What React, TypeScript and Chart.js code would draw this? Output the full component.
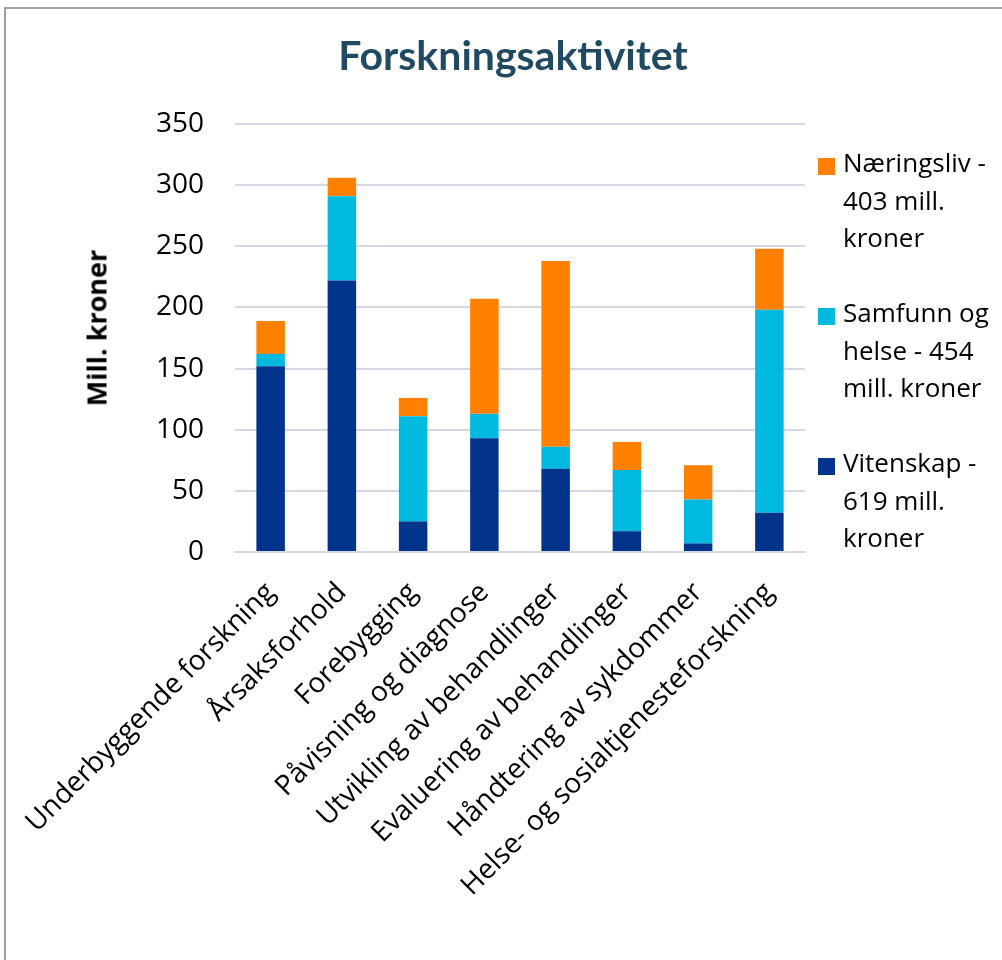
import React, { useEffect, useRef } from "react";
import { Chart, registerables } from "chart.js";

Chart.register(...registerables);

const categories = [
  "Underbyggende forskning",
  "Årsaksforhold",
  "Forebygging",
  "Påvisning og diagnose",
  "Utvikling av behandlinger",
  "Evaluering av behandlinger",
  "Håndtering av sykdommer",
  "Helse- og sosialtjenesteforskning",
];

const vitenskap = [152, 222, 25, 93, 68, 17, 7, 32];
const samfunn = [10, 69, 86, 20, 18, 50, 36, 166];
const naeringsliv = [27, 15, 15, 94, 152, 23, 28, 50];

const yTicks = [0, 50, 100, 150, 200, 250, 300, 350];

const legendItems = [
  { lines: ["Næringsliv -", "403 mill.", "kroner"], color: "#FF7F00" },
  { lines: ["Samfunn og", "helse - 454", "mill. kroner"], color: "#00B9DF" },
  { lines: ["Vitenskap -", "619 mill.", "kroner"], color: "#03348C" },
];

export default function App() {
  const ref = useRef<HTMLCanvasElement | null>(null);

  useEffect(() => {
    if (!ref.current) return;
    const chart = new Chart(ref.current, {
      type: "bar",
      data: {
        labels: categories,
        datasets: [
          { label: "Vitenskap - 619 mill. kroner", data: vitenskap, backgroundColor: "#03348C" },
          { label: "Samfunn og helse - 454 mill. kroner", data: samfunn, backgroundColor: "#00B9DF" },
          { label: "Næringsliv - 403 mill. kroner", data: naeringsliv, backgroundColor: "#FF7F00" },
        ],
      },
      options: {
        responsive: false,
        animation: false,
        layout: { padding: { top: 124, right: 197, bottom: 0, left: 0 } },
        datasets: { bar: { categoryPercentage: 0.8, barPercentage: 0.5, borderWidth: 0 } },
        plugins: {
          legend: { display: false },
          tooltip: { enabled: false },
          title: { display: false },
        },
        scales: {
          x: {
            stacked: true,
            grid: { display: false },
            border: { display: true, color: "#D5D8E4", width: 2 },
            ticks: {
              color: "#000",
              font: { family: "Open Sans", size: 28 },
              maxRotation: 45,
              minRotation: 45,
              padding: 16,
              autoSkip: false,
            },
            afterFit: (s: any) => {
              s.height = 408;
              s.paddingLeft = 0;
              s.paddingRight = 0;
            },
          },
          y: {
            stacked: true,
            min: 0,
            max: 350,
            afterBuildTicks: (s: any) => {
              s.ticks = yTicks.map((v) => ({ value: v }));
            },
            grid: { color: "#D5D8E4", lineWidth: 2, drawTicks: false },
            border: { display: false },
            ticks: {
              color: "#000",
              font: { family: "Open Sans", size: 28 },
              padding: 31,
            },
            afterFit: (s: any) => {
              s.width = 235;
            },
          },
        },
      },
    });
    return () => chart.destroy();
  }, []);

  return (
    <div style={{ position: "absolute", left: 0, top: 0, width: 1002, height: 960, overflow: "hidden", background: "#fff" }}>
      <div
        style={{
          position: "absolute",
          left: 4,
          top: 7,
          width: 1020,
          height: 980,
          border: "2px solid #A0A0A0",
          boxSizing: "border-box",
        }}
      />
      <canvas ref={ref} width={1002} height={960} style={{ position: "absolute", left: 0, top: 0, width: 1002, height: 960 }} />
      <div
        style={{
          position: "absolute",
          left: 213,
          width: 600,
          top: 34,
          textAlign: "center",
          fontFamily: "Lato",
          fontWeight: "bold",
          fontSize: 41,
          lineHeight: "41px",
          whiteSpace: "nowrap",
          color: "#1F4A62",
        }}
      >
        Forskningsaktivitet
      </div>
      <div
        style={{
          position: "absolute",
          left: 96,
          top: 328,
          transform: "translate(-50%, -50%) rotate(-90deg)",
          fontFamily: "Open Sans",
          fontWeight: "bold",
          fontSize: 27,
          whiteSpace: "nowrap",
          color: "#000",
        }}
      >
        Mill. kroner
      </div>
      {legendItems.map((item, i) => (
        <div key={i} style={{ position: "absolute", left: 818, top: 144 + i * 150 }}>
          <div style={{ position: "absolute", left: 0, top: 14, width: 17, height: 17, background: item.color }} />
          <div
            style={{
              position: "absolute",
              left: 25,
              top: 0,
              fontFamily: "Open Sans",
              fontSize: 26,
              lineHeight: "37.5px",
              whiteSpace: "nowrap",
              color: "#000",
            }}
          >
            {item.lines.map((l, j) => (
              <div key={j}>{l}</div>
            ))}
          </div>
        </div>
      ))}
    </div>
  );
}
